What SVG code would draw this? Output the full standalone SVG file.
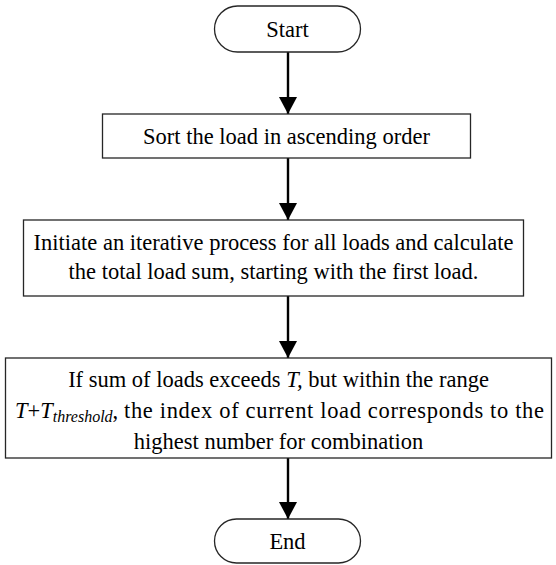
<svg xmlns="http://www.w3.org/2000/svg" width="556" height="565" viewBox="0 0 556 565">
  <style>
    .box { fill: #ffffff; stroke: #262626; stroke-width: 1.3; }
    .lbl { font-family: "Liberation Serif", "Times New Roman", serif; font-size: 22.5px; fill: #000000; text-anchor: middle; }
    .lft { text-anchor: start; }
    .it { font-style: italic; }
    .flow { stroke: #000000; stroke-width: 2.4; fill: none; marker-end: url(#head); }
  </style>
  <defs>
    <marker id="head" viewBox="0 0 17 18" refX="17" refY="9" markerWidth="17" markerHeight="18" markerUnits="userSpaceOnUse" orient="auto">
      <path d="M0,0 L17,9 L0,18 Z" fill="#000000"/>
    </marker>
  </defs>
  <rect width="556" height="565" fill="#ffffff"/>

  <g id="connectors">
    <line class="flow" x1="288" y1="52" x2="288" y2="114"/>
    <line class="flow" x1="288" y1="158" x2="288" y2="220"/>
    <line class="flow" x1="288" y1="296" x2="288" y2="358"/>
    <line class="flow" x1="288" y1="458" x2="288" y2="519"/>
  </g>

  <g id="start">
    <rect class="box" x="214.5" y="6" width="146" height="46" rx="23" ry="23"/>
    <text class="lbl" x="287.5" y="37">Start</text>
  </g>

  <g id="sort">
    <rect class="box" x="102.5" y="114" width="368" height="44"/>
    <text class="lbl" x="286.5" y="144">Sort the load in ascending order</text>
  </g>

  <g id="iterate">
    <rect class="box" x="23.5" y="220" width="500" height="76"/>
    <text class="lbl" x="273.5" y="250">Initiate an iterative process for all loads and calculate</text>
    <text class="lbl" x="273.5" y="279">the total load sum, starting with the first load.</text>
  </g>

  <g id="check">
    <rect class="box" x="5.5" y="358" width="546" height="100"/>
    <text class="lbl" x="278.5" y="387">If sum of loads exceeds <tspan class="it">T,</tspan> but within the range</text>
    <text class="lbl lft" x="15" y="418"><tspan class="it">T</tspan>+<tspan class="it">T</tspan><tspan class="it" font-size="16px" dy="4">threshold</tspan><tspan dy="-4">,</tspan></text>
    <text class="lbl lft" x="124" y="418" textLength="420" lengthAdjust="spacing">the index of current load corresponds to the</text>
    <text class="lbl" x="278.5" y="449">highest number for combination</text>
  </g>

  <g id="end">
    <rect class="box" x="214.5" y="519" width="146" height="44" rx="22" ry="22"/>
    <text class="lbl" x="287.5" y="549">End</text>
  </g>
</svg>
